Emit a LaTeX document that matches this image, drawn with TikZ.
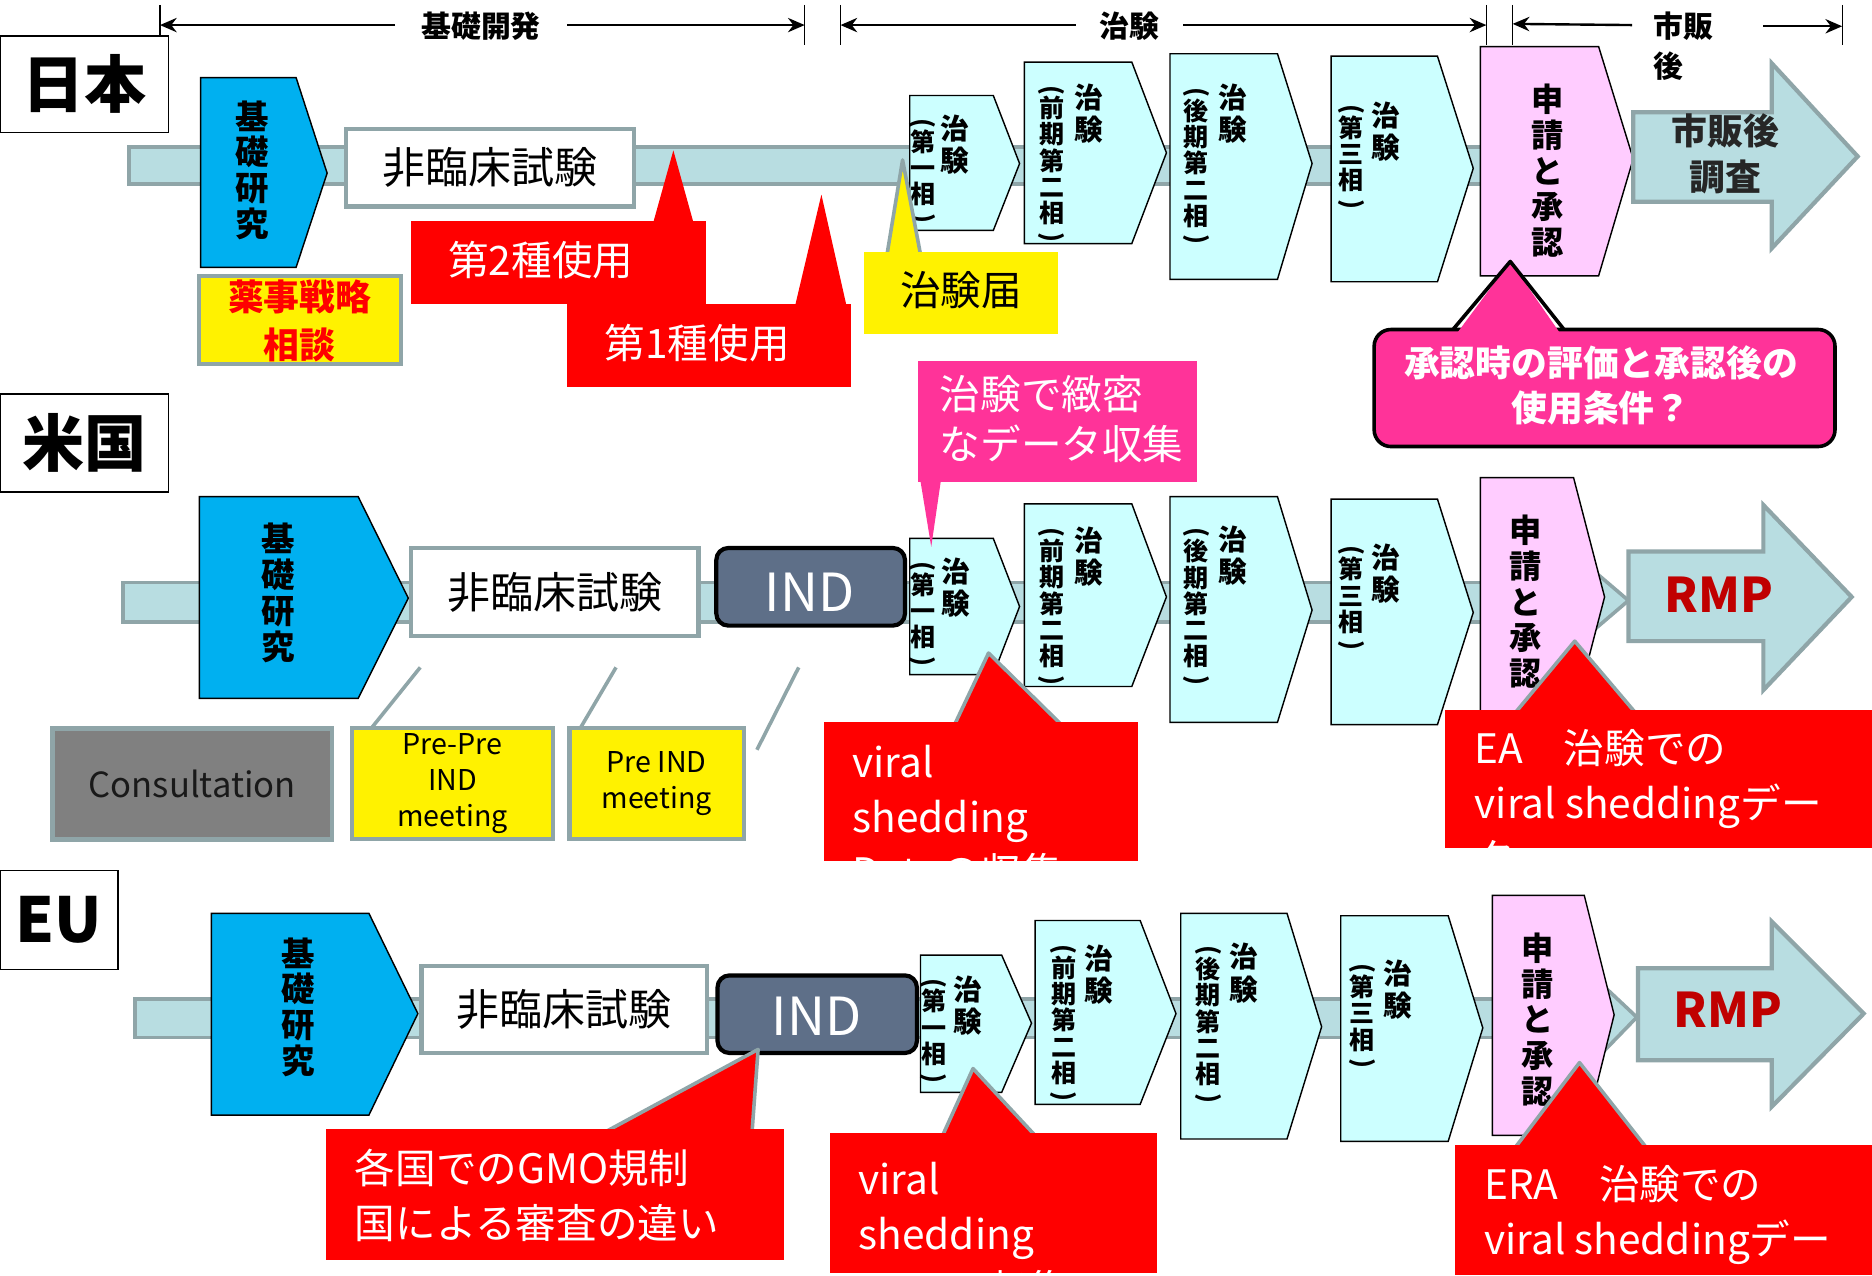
\documentclass[tikz,border=0pt]{standalone}
\usepackage{fontspec}
\setmainfont{Noto Sans CJK JP}
\usetikzlibrary{arrows.meta}
\definecolor{bluebox}{HTML}{00B0F0}
\definecolor{phasec}{HTML}{CCFFFF}
\definecolor{pinkbox}{HTML}{FFCCFF}
\definecolor{barfill}{HTML}{B8DDE1}
\definecolor{grayb}{HTML}{8FA5A8}
\definecolor{hotpink}{HTML}{FF3399}
\definecolor{indc}{HTML}{5E6F88}
\definecolor{rmpred}{HTML}{C00000}
\definecolor{consg}{HTML}{808080}
\newcommand\myfs[2]{\fontsize{#1pt}{#2pt}\selectfont}
\newcommand\mypent[7]{\draw[#1] (#2,#3) -- (#4,#3) -- (#5,#6) -- (#4,#7) -- (#2,#7) -- cycle;}
\newcommand\phtxt[6]{\node[chiken] (#1a) at (#2,#3) {治\\験};\node[kakko] (#1b) at (#4,#5) {#6};}
\newcommand\vkakko[1]{\rotatebox{-90}{(}\\#1\\[-14pt]\rotatebox{-90}{)}}
\begin{document}
\begin{tikzpicture}[x=1pt,y=-1pt,
 barst/.style={fill=barfill,draw=grayb,line width=3pt},
 bluest/.style={fill=bluebox,draw=black,line width=1.2pt},
 phasest/.style={fill=phasec,draw=black,line width=1.2pt},
 appst/.style={fill=pinkbox,draw=black,line width=1.2pt},
 bigarrowst/.style={fill=barfill,draw=grayb,line width=3.5pt,line join=miter},
 whitest/.style={fill=white,draw=grayb,line width=3.5pt,inner sep=0pt},
 yellowst/.style={fill=yellow,draw=grayb,line width=3.5pt,inner sep=0pt},
 countryst/.style={draw=black,fill=white,line width=1.2pt,inner sep=0pt,font=\myfs{52}{52}\bfseries},
 ptrgray/.style={draw=grayb,line width=3pt,line join=round},
 indst/.style={fill=indc,draw=black,line width=3.5pt,rounded corners=10pt},
 tickst/.style={draw=black,line width=1pt},
 hdrarrow/.style={draw=black,line width=2pt},
 chiken/.style={anchor=north,inner sep=0pt,align=center,font=\myfs{24}{27}\bfseries},
 kakko/.style={anchor=north,inner sep=0pt,align=center,font=\myfs{21}{22}\bfseries},
 vstack/.style={anchor=north,inner sep=0pt,align=center,font=\myfs{28}{30}\bfseries},
 hdrtxt/.style={inner sep=0pt,font=\myfs{25}{33}\bfseries},
 whitetxt/.style={text=white,inner sep=0pt,font=\myfs{34}{34}},
 ctxt/.style={anchor=north west,align=left,inner sep=0pt,text=white,font=\myfs{34}{46}},
 indtxt/.style={text=white,inner sep=0pt,font=\myfs{44}{44}},
 rmptxt/.style={text=rmpred,inner sep=0pt,font=\myfs{40}{40}\bfseries},
 stdtk/.style={-{Stealth[length=14pt,width=12pt]}},
]
\useasboundingbox (0,0) rectangle (1568,1068);
\fill[white] (0,0) rectangle (1568,1068);

% ---------- header ----------
\foreach \x in {134,674,704,1245,1267,1543} \draw[tickst] (\x,4) -- (\x,38);
\node[hdrtxt] (kiso) at (403,22) {基礎開発};
\node[hdrtxt] (chik) at (946,22) {治験};
\node[hdrtxt,anchor=north west,align=left] (shih) at (1385,10) {市販\\後};
\coordinate (h1l) at (134,21); \coordinate (h1r) at (674,21);
\coordinate (h2l) at (704,21); \coordinate (h2r) at (1245,21);
\coordinate (h3l) at (1267,20); \coordinate (h3r) at (1543,22);
\draw[hdrarrow,stdtk] (331,21) -- (h1l);
\draw[hdrarrow,stdtk] (475,21) -- (h1r);
\draw[hdrarrow,stdtk] (901,21) -- (h2l);
\draw[hdrarrow,stdtk] (991,21) -- (h2r);
\draw[hdrarrow,stdtk] (1367,21) -- (h3l);
\draw[hdrarrow,stdtk] (1477,22) -- (h3r);

% ---------- country labels ----------
\node[countryst,minimum width=141pt,minimum height=81pt] (jp) at (70.5,70.5) {日本};
\node[countryst,minimum width=141pt,minimum height=82pt] (us) at (70.5,371) {米国};
\node[countryst,minimum width=99pt,minimum height=83pt] (eu) at (49.5,770.5) {EU};

% ---------- Japan row ----------
\draw[barst] (108,123) rectangle (1245,154);
\mypent{bluest}{168}{65}{248}{274}{145}{224}
\node[vstack] (jpkiso) at (211,84) {基\\礎\\研\\究};
\node[whitest,minimum width=241pt,minimum height=65pt,font=\myfs{36}{36}] (jpnc) at (410.5,140.5) {非臨床試験};
\node[yellowst,minimum width=169pt,minimum height=74pt] (jpyj) at (251.5,268) {};
\node[anchor=north,align=center,inner sep=0pt,text=red,font=\myfs{30}{40}\bfseries] (jpyjt) at (251,234) {薬事戦略\\相談};
\mypent{phasest}{762}{80}{832}{854}{137}{193}
\phtxt{jpp1}{800}{96}{773}{99}{\vkakko{第\\一\\相}}
\mypent{phasest}{858}{52}{948}{977}{128}{204}
\phtxt{jpp2}{912}{70}{881}{71}{\vkakko{前\\期\\第\\二\\相}}
\mypent{phasest}{980}{45}{1070}{1099}{137}{234}
\phtxt{jpp3}{1033}{70}{1002}{73}{\vkakko{後\\期\\第\\二\\相}}
\mypent{phasest}{1115}{47}{1204}{1234}{141}{236}
\phtxt{jpp4}{1161}{85}{1132}{87}{\vkakko{第\\三\\相}}
\mypent{appst}{1240}{39}{1339}{1368}{133}{231}
\node[vstack,font=\myfs{27}{30}\bfseries] (jpapp) at (1296,70) {申\\請\\と\\承\\認};
\draw[bigarrowst] (1368,94) -- (1484,94) -- (1484,53) -- (1556,131) -- (1484,208) -- (1484,169) -- (1368,169) -- cycle;
\node[align=center,inner sep=0pt,font=\myfs{30}{38}\bfseries,text=black!85] (jppms) at (1445,129) {市販後\\調査};

% ---------- US row ----------
\draw[barst] (103,488) rectangle (1340,521);
\mypent{bluest}{167}{416}{300}{342}{501}{585}
\node[vstack] (uskiso) at (233,438) {基\\礎\\研\\究};
\node[whitest,minimum width=241pt,minimum height=74pt,font=\myfs{36}{36}] (usnc) at (464.5,496) {非臨床試験};
\draw[indst] (600,459) rectangle (758,524);
\node[indtxt] (usind) at (678,496) {IND};
\coordinate (ul1a) at (352,559); \coordinate (ul1b) at (311,610);
\coordinate (ul2a) at (516,559); \coordinate (ul2b) at (486,610);
\coordinate (ul3a) at (669,559); \coordinate (ul3b) at (634,628);
\draw[grayb,line width=3pt] (ul1a) -- (ul1b);
\draw[grayb,line width=3pt] (ul2a) -- (ul2b);
\draw[grayb,line width=3pt] (ul3a) -- (ul3b);
\node[fill=consg,draw=grayb,line width=4pt,minimum width=234pt,minimum height=93pt,inner sep=0pt,font=\myfs{29}{29},text=black!90] (uscons) at (161,656.5) {Consultation};
\node[yellowst,minimum width=168pt,minimum height=93pt,align=center,font=\myfs{24}{30}] (uspp) at (379,656.5) {Pre-Pre\\IND\\meeting};
\node[yellowst,minimum width=146pt,minimum height=93pt,align=center,font=\myfs{24}{30}] (uspi) at (550,656.5) {Pre IND\\meeting};
\mypent{phasest}{762}{451}{832}{854}{508}{565}
\phtxt{usp1}{801}{467}{773}{470}{\vkakko{第\\一\\相}}
\mypent{phasest}{858}{422}{948}{977}{500}{575}
\phtxt{usp2}{912}{441}{881}{442}{\vkakko{前\\期\\第\\二\\相}}
\mypent{phasest}{980}{416}{1070}{1099}{511}{605}
\phtxt{usp3}{1033}{440}{1002}{442}{\vkakko{後\\期\\第\\二\\相}}
\mypent{phasest}{1115}{418}{1204}{1234}{513}{607}
\phtxt{usp4}{1161}{455}{1132}{457}{\vkakko{第\\三\\相}}
\draw[barst,line join=miter] (1330,474) -- (1364,503) -- (1330,532) -- cycle;
\mypent{appst}{1240}{400}{1318}{1344}{500}{600}
\node[vstack,font=\myfs{27}{30}\bfseries] (usapp) at (1278,431) {申\\請\\と\\承\\認};
\draw[bigarrowst] (1364,462) -- (1477,462) -- (1477,423) -- (1551,500) -- (1477,578) -- (1477,537) -- (1364,537) -- cycle;
\node[rmptxt] (usrmp) at (1440,498) {RMP};

% ---------- EU row ----------
\draw[barst] (113,837) rectangle (1347,869);
\mypent{bluest}{177}{765}{309}{350}{849}{934}
\node[vstack] (eukiso) at (250,785) {基\\礎\\研\\究};
\node[whitest,minimum width=239pt,minimum height=73pt,font=\myfs{36}{36}] (eunc) at (472.5,845.5) {非臨床試験};
\draw[indst] (601,817) rectangle (768,882);
\node[indtxt] (euind) at (684,851) {IND};
\mypent{phasest}{771}{800}{839}{864}{857}{915}
\phtxt{eup1}{811}{817}{782}{819}{\vkakko{第\\一\\相}}
\mypent{phasest}{867}{771}{955}{985}{849}{925}
\phtxt{eup2}{920}{791}{891}{791}{\vkakko{前\\期\\第\\二\\相}}
\mypent{phasest}{989}{765}{1078}{1107}{860}{954}
\phtxt{eup3}{1042}{790}{1012}{792}{\vkakko{後\\期\\第\\二\\相}}
\mypent{phasest}{1123}{767}{1213}{1242}{861}{956}
\phtxt{eup4}{1171}{804}{1141}{807}{\vkakko{第\\三\\相}}
\draw[barst,line join=miter] (1338,821) -- (1371,852) -- (1338,886) -- cycle;
\mypent{appst}{1250}{750}{1327}{1352}{850}{951}
\node[vstack,font=\myfs{27}{30}\bfseries] (euapp) at (1288,781) {申\\請\\と\\承\\認};
\draw[bigarrowst] (1372,811) -- (1484,811) -- (1484,772) -- (1561,849) -- (1484,927) -- (1484,888) -- (1372,888) -- cycle;
\node[rmptxt] (eurmp) at (1447,846) {RMP};

% ---------- callouts: Japan ----------
\fill[red] (547,187) -- (564,126) -- (581,187) -- cycle;
\fill[red] (344,185) rectangle (591,255);
\node[whitetxt] (jp2t) at (453,218) {第2種使用};
\fill[red] (666,256) -- (688,163) -- (709,256) -- cycle;
\fill[red] (475,255) rectangle (713,324);
\node[whitetxt] (jp1t) at (584,287) {第1種使用};
\fill[yellow] (743,213) -- (756,134) -- (771,213) -- cycle;
\draw[ptrgray] (743,213) -- (756,134) -- (771,213);
\fill[yellow] (724,211) rectangle (886,280);
\node[inner sep=0pt,font=\myfs{34}{34}] (jptd) at (805,243) {治験届};
\draw[fill=hotpink,draw=black,line width=3pt,rounded corners=14pt] (1151,276) rectangle (1537,374);
\fill[hotpink] (1219,281) -- (1265,219) -- (1308,281) -- cycle;
\draw[black,line width=3pt,line join=round] (1217,276) -- (1265,219) -- (1310,276);
\node[align=center,inner sep=0pt,text=white,font=\myfs{30}{38}\bfseries] (jpq) at (1341,323) {承認時の評価と承認後の\\使用条件？};

% ---------- callouts: US ----------
\fill[hotpink] (771,403) -- (780,458) -- (788,403) -- cycle;
\fill[hotpink] (769,302) rectangle (1003,404);
\node[ctxt,font=\myfs{34}{42}] (usdata) at (787,314) {治験で緻密\\なデータ収集};
\fill[red] (800,606) -- (828,547) -- (888,606) -- cycle;
\draw[ptrgray] (800,606) -- (828,547) -- (888,606);
\fill[red] (690,605) rectangle (953,721);
\begin{scope}
\clip (690,605) rectangle (953,721);
\node[ctxt] (usviral) at (714,624) {viral\\shedding\\Dataの収集};
\end{scope}
\fill[red] (1270,596) -- (1319,537) -- (1369,596) -- cycle;
\draw[ptrgray] (1270,596) -- (1319,537) -- (1369,596);
\fill[red] (1210,595) rectangle (1568,710);
\begin{scope}
\clip (1210,595) rectangle (1568,710);
\node[ctxt] (usea) at (1235,611) {EA　治験での\\viral sheddingデー\\タ};
\end{scope}

% ---------- callouts: EU ----------
\fill[red] (509,947) -- (635,879) -- (630,947) -- cycle;
\draw[ptrgray] (509,947) -- (635,879) -- (630,947);
\fill[red] (273,946) rectangle (657,1055);
\node[ctxt] (eugmo) at (297,962) {各国でのGMO規制\\国による審査の違い};
\fill[red] (790,950) -- (815,895) -- (866,950) -- cycle;
\draw[ptrgray] (790,950) -- (815,895) -- (866,950);
\fill[red] (695,949) rectangle (969,1066);
\begin{scope}
\clip (695,949) rectangle (969,1066);
\node[ctxt] (euviral) at (719,973) {viral\\shedding\\Dataの収集};
\end{scope}
\fill[red] (1270,960) -- (1323,890) -- (1378,960) -- cycle;
\draw[ptrgray] (1270,960) -- (1323,890) -- (1378,960);
\fill[red] (1219,959) rectangle (1568,1068);
\begin{scope}
\clip (1219,959) rectangle (1568,1068);
\node[ctxt] (euera) at (1243,976) {ERA　治験での\\viral sheddingデー\\タ};
\end{scope}
\end{tikzpicture}
\end{document}
